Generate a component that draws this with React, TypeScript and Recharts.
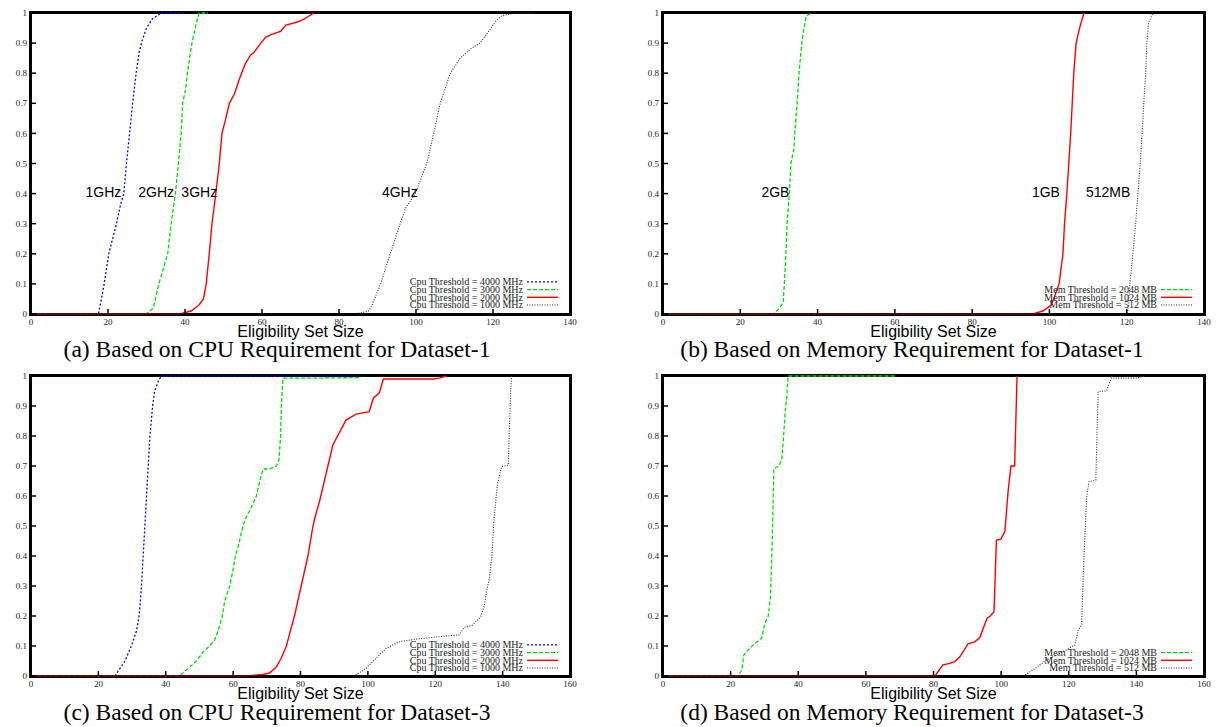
import { LineChart, Line, XAxis, YAxis, Legend, ReferenceDot } from 'recharts';

type Pt = [number, number];

const xTicks140 = [0, 20, 40, 60, 80, 100, 120, 140];
const xTicks160 = [0, 20, 40, 60, 80, 100, 120, 140, 160];
const yTicks = [0, 0.1, 0.2, 0.3, 0.4, 0.5, 0.6, 0.7, 0.8, 0.9, 1];

// (a) CPU, dataset 1
const a4000: Pt[] = [[0, 0], [17.5, 0], [18.3, 0.05], [19, 0.1], [20.2, 0.2], [21.2, 0.25], [22.2, 0.3], [23.2, 0.36], [24.1, 0.4], [24.8, 0.5], [25.6, 0.6], [26.4, 0.7], [27.3, 0.8], [28.1, 0.87], [28.9, 0.91], [30, 0.95], [31.5, 0.98], [33.8, 1], [40, 1]];
const a3000: Pt[] = [[0, 0], [29.9, 0], [31.8, 0.02], [33.2, 0.1], [35.5, 0.2], [36.4, 0.3], [37.5, 0.4], [38.3, 0.5], [39, 0.6], [39.4, 0.7], [40.2, 0.75], [40.6, 0.8], [41.8, 0.9], [43, 0.97], [43.7, 1], [46, 1]];
const a2000: Pt[] = [[0, 0], [38.6, 0], [41.6, 0.01], [43.6, 0.03], [44.8, 0.05], [45.5, 0.1], [46.3, 0.2], [47, 0.3], [48, 0.4], [48.9, 0.5], [49.6, 0.6], [50.6, 0.65], [51.5, 0.7], [52.8, 0.73], [54.1, 0.78], [55.6, 0.83], [57, 0.86], [58, 0.87], [59.7, 0.9], [61, 0.92], [62.7, 0.93], [64.9, 0.94], [66.2, 0.96], [69.2, 0.97], [70.9, 0.98], [72.2, 0.99], [73.5, 1]];
const a1000: Pt[] = [[0, 0], [84.3, 0], [87.7, 0.01], [88.6, 0.03], [90.8, 0.1], [93.3, 0.2], [95.9, 0.3], [97.2, 0.35], [99.8, 0.4], [102.8, 0.5], [104.6, 0.6], [106.3, 0.7], [108.9, 0.8], [111.5, 0.85], [114.1, 0.88], [116.6, 0.9], [118.4, 0.93], [120.5, 0.97], [122.2, 0.99], [125.7, 1], [131, 1]];

// (b) memory, dataset 1
const b2048: Pt[] = [[0, 0], [28.5, 0], [30.2, 0.02], [31.1, 0.04], [31.4, 0.1], [31.8, 0.2], [32.1, 0.3], [32.7, 0.4], [33.1, 0.5], [33.9, 0.55], [34.1, 0.6], [34.7, 0.7], [35.2, 0.8], [35.9, 0.9], [36.5, 0.95], [37.1, 0.99], [38.4, 1]];
const b1024: Pt[] = [[0, 0], [95.7, 0], [98.3, 0.01], [100.5, 0.03], [102.5, 0.1], [103.5, 0.2], [103.9, 0.3], [104.5, 0.4], [105, 0.5], [105.5, 0.6], [105.9, 0.7], [106.3, 0.8], [106.9, 0.9], [107.8, 0.95], [108.9, 1]];
const b512: Pt[] = [[0, 0], [120.2, 0], [120.8, 0.1], [121.6, 0.2], [122.3, 0.3], [122.9, 0.4], [123.5, 0.5], [124, 0.6], [124.4, 0.7], [124.9, 0.8], [125.2, 0.9], [125.7, 0.97], [126.8, 1]];

// (c) CPU, dataset 3
const c4000: Pt[] = [[0, 0], [24.9, 0], [27.9, 0.05], [29.8, 0.1], [31.3, 0.15], [32.1, 0.2], [32.8, 0.3], [33.3, 0.4], [33.8, 0.5], [34.3, 0.6], [34.8, 0.7], [35.3, 0.8], [36.1, 0.9], [36.7, 0.95], [38, 0.99], [39.2, 1], [98, 1]];
const c3000: Pt[] = [[0, 0], [44.1, 0], [46.1, 0.02], [49.1, 0.05], [51.1, 0.08], [53, 0.1], [54.5, 0.12], [55.5, 0.15], [56.8, 0.2], [57.5, 0.25], [59, 0.3], [59.9, 0.35], [60.7, 0.4], [61.9, 0.45], [62.9, 0.5], [63.9, 0.53], [64.9, 0.55], [66.9, 0.6], [67.9, 0.65], [68.9, 0.69], [70.8, 0.69], [72.8, 0.7], [73.6, 0.72], [74.1, 0.8], [74.3, 0.9], [74.8, 0.993], [85.6, 0.993], [98, 0.995]];
const c2000: Pt[] = [[0, 0], [63.9, 0], [68.8, 0.005], [70.8, 0.01], [72.8, 0.03], [74.3, 0.06], [75.8, 0.1], [78.2, 0.2], [80.2, 0.3], [82.2, 0.4], [83.7, 0.5], [84.6, 0.542], [85.6, 0.58], [89.6, 0.77], [93.5, 0.853], [96.5, 0.873], [100.4, 0.881], [101.6, 0.926], [103.4, 0.944], [104.6, 0.99], [119.2, 0.99], [121.2, 0.993], [123.2, 1]];
const c1000: Pt[] = [[0, 0], [96, 0], [99.5, 0.026], [102.4, 0.059], [105.4, 0.092], [109.3, 0.114], [114.3, 0.123], [121.2, 0.131], [127.1, 0.137], [128.6, 0.162], [131.1, 0.17], [133.5, 0.198], [134.5, 0.231], [135.5, 0.298], [136, 0.32], [136.8, 0.398], [137.5, 0.531], [138.5, 0.642], [139.7, 0.698], [141.7, 0.703], [141.9, 0.787], [142.4, 0.953], [142.7, 1]];

// (d) memory, dataset 3
const d2048: Pt[] = [[0, 0], [22.3, 0], [23.3, 0.02], [23.9, 0.07], [25.2, 0.087], [27.2, 0.109], [29.2, 0.126], [30.1, 0.176], [31.1, 0.198], [31.8, 0.264], [32.3, 0.453], [32.8, 0.692], [34.1, 0.698], [35.1, 0.72], [35.6, 0.787], [36.1, 0.876], [36.6, 0.931], [37, 1], [69, 1]];
const d1024: Pt[] = [[0, 0], [80.4, 0], [82.8, 0.037], [84.8, 0.042], [86.3, 0.048], [87.8, 0.064], [90.2, 0.107], [92.2, 0.114], [93.7, 0.128], [95.8, 0.192], [96.8, 0.2], [97.9, 0.214], [98.6, 0.453], [99.9, 0.456], [101.1, 0.481], [102.1, 0.62], [102.9, 0.7], [104, 0.7], [104.7, 1]];
const d512: Pt[] = [[0, 0], [106.5, 0], [109.4, 0.02], [113.4, 0.053], [118.3, 0.081], [121.8, 0.103], [122.8, 0.153], [123.8, 0.17], [124.3, 0.342], [125.3, 0.598], [126, 0.648], [128, 0.653], [128.7, 0.948], [131.1, 0.95], [132.6, 0.993], [140, 0.993], [142.4, 1]];

const cpuNames = ['Cpu Threshold = 4000 MHz', 'Cpu Threshold = 3000 MHz', 'Cpu Threshold = 2000 MHz', 'Cpu Threshold = 1000 MHz'];
const memNames = ['Mem Threshold = 2048 MB', 'Mem Threshold = 1024 MB', 'Mem Threshold = 512 MB'];

const cpuLabels = ['1GHz', '2GHz', '3GHz', '4GHz'];
const cpuLabelX = [18.8, 32.5, 43.7, 95.8];
const memLabels = ['2GB', '1GB', '512MB'];
const memLabelX = [29.1, 99.1, 115.2];

const BLUE = { color: '#0000ff', dash: '2 2', width: 1.3 };
const GREEN = { color: '#00e000', dash: '4 2', width: 1.3 };
const RED = { color: '#ff0000', dash: undefined, width: 1.4 };
const BLACK = { color: '#333333', dash: '1 1.5', width: 1.1 };

interface Series { name: string; points: Pt[]; color: string; dash?: string; width: number }
interface Note { text: string; x: number; y: number }

const serif = "'Liberation Serif', 'Times New Roman', serif";
const sans = "'Liberation Sans', Arial, sans-serif";
const TICK = 5;

const toRows = (pts: Pt[]) => pts.map(([x, y]) => ({ x, y }));

// inward gnuplot-style tick marks, drawn together with the labels
const BottomTick = (p: any) => (
  <g>
    <line x1={p.x} x2={p.x} y1={p.y - 5} y2={p.y - 5 - TICK} stroke="#000" strokeWidth={1.5} />
    <text x={p.x} y={p.y} dy="0.71em" textAnchor="middle" fontSize={9} fontFamily={serif} fill="#222">{p.payload.value}</text>
  </g>
);
const LeftTick = (p: any) => (
  <g>
    <line x1={p.x + 4} x2={p.x + 4 + TICK} y1={p.y} y2={p.y} stroke="#000" strokeWidth={1.5} />
    <text x={p.x} y={p.y} dy="0.355em" textAnchor="end" fontSize={9} fontFamily={serif} fill="#222">{String(p.payload.value)}</text>
  </g>
);
const TopTick = (p: any) => <line x1={p.x} x2={p.x} y1={p.y} y2={p.y + TICK} stroke="#000" strokeWidth={1.5} />;
const RightTick = (p: any) => <line x1={p.x} x2={p.x - TICK} y1={p.y} y2={p.y} stroke="#000" strokeWidth={1.5} />;

function KeyBox({ series, boxW }: { series: Series[]; boxW: number }) {
  const rowH = 7.7;
  const textRight = boxW - 47;
  const n = series.length;
  return (
    <svg width={boxW} height={34} style={{ overflow: 'visible' }}>
      {series.map((s, i) => {
        const y = 29 - (n - 1 - i) * rowH;
        return (
          <g key={s.name}>
            <text x={textRight} y={y + 3.3} textAnchor="end" fontSize={10} fontFamily={serif} fill="#222">{s.name}</text>
            <line x1={textRight + 4} x2={textRight + 35} y1={y} y2={y} stroke={s.color} strokeWidth={s.width} strokeDasharray={s.dash} />
          </g>
        );
      })}
    </svg>
  );
}

interface PanelProps {
  left: number; top: number; width: number; height: number; marginRight: number;
  xMax: number; xTicks: number[]; series: Series[]; notes: Note[];
}

const M_TOP = 13;
const Y_W = 31;
const X_H = 26;

function Panel({ left, top, width, height, marginRight, xMax, xTicks, series, notes }: PanelProps) {
  const boxW = 190;
  const plotRight = width - marginRight;
  const plotBottom = height - X_H;
  return (
    <div style={{ position: 'absolute', left, top, width, height }}>
      {/* plot border, behind the chart */}
      <div style={{
        position: 'absolute', left: Y_W - 2, top: M_TOP - 2, width: plotRight - Y_W + 4, height: plotBottom - M_TOP + 4,
        border: '3px solid #000', boxSizing: 'border-box', background: '#fff',
      }} />
      <div style={{ position: 'absolute', left: 0, top: 0 }}>
        <LineChart width={width} height={height} margin={{ top: M_TOP, right: marginRight, bottom: 0, left: 0 }}>
          <XAxis xAxisId="b" type="number" dataKey="x" domain={[0, xMax]} ticks={xTicks} allowDataOverflow
            height={X_H} tickSize={0} tickMargin={5} tickLine={false} stroke="#000" tick={BottomTick}
            label={{ value: 'Eligibility Set Size', position: 'insideBottom', offset: 3, fontSize: 16, fontFamily: sans, fill: '#000' }} />
          <XAxis xAxisId="t" orientation="top" type="number" dataKey="x" domain={[0, xMax]} ticks={xTicks} allowDataOverflow
            height={0} tickSize={0} tickMargin={0} tickLine={false} tick={TopTick} stroke="#000" />
          <YAxis yAxisId="l" type="number" domain={[0, 1]} ticks={yTicks} width={Y_W}
            tickSize={0} tickMargin={4} tickLine={false} stroke="#000" tick={LeftTick} />
          <YAxis yAxisId="r" orientation="right" type="number" domain={[0, 1]} ticks={yTicks} width={0}
            tickSize={0} tickMargin={0} tickLine={false} tick={RightTick} stroke="#000" />
          {series.map((s) => (
            <Line key={s.name} xAxisId="b" yAxisId="l" name={s.name} data={toRows(s.points)} dataKey="y" type="linear"
              stroke={s.color} strokeWidth={s.width} strokeDasharray={s.dash} dot={false} activeDot={false}
              isAnimationActive={false} />
          ))}
          {notes.map((n) => (
            <ReferenceDot key={n.text} xAxisId="b" yAxisId="l" x={n.x} y={n.y} r={0} stroke="none" fill="none"
              label={{ value: n.text, position: 'center', fontSize: 14, fontFamily: sans, fill: '#000' }} />
          ))}
          <Legend layout="vertical" align="center" verticalAlign="middle"
            wrapperStyle={{ left: plotRight - boxW, top: 276, width: boxW, height: 34 }}
            content={() => <KeyBox series={series} boxW={boxW} />} />
        </LineChart>
      </div>
    </div>
  );
}

function Caption({ text, cx, top }: { text: string; cx: number; top: number }) {
  return (
    <div style={{ position: 'absolute', left: cx - 300, top, width: 600, textAlign: 'center', fontFamily: serif, fontSize: 23.5, lineHeight: '24px', color: '#000' }}>
      {text}
    </div>
  );
}

const mk = (names: string[], pts: Pt[][], styles: typeof RED[]): Series[] =>
  names.map((name, i) => ({ name, points: pts[i], ...styles[i] }));

export default function App() {
  const cpuA = mk(cpuNames, [a4000, a3000, a2000, a1000], [BLUE, GREEN, RED, BLACK]);
  const memB = mk(memNames, [b2048, b1024, b512], [GREEN, RED, BLACK]);
  const cpuC = mk(cpuNames, [c4000, c3000, c2000, c1000], [BLUE, GREEN, RED, BLACK]);
  const memD = mk(memNames, [d2048, d1024, d512], [GREEN, RED, BLACK]);
  const notesA = cpuLabels.map((t, i) => ({ text: t, x: cpuLabelX[i], y: 0.405 }));
  const notesB = memLabels.map((t, i) => ({ text: t, x: memLabelX[i], y: 0.405 }));
  return (
    <div style={{ position: 'absolute', left: 0, top: 0, width: 1221, height: 727, background: '#fff', overflow: 'hidden' }}>
      <Panel left={0} top={0} width={600} height={340} marginRight={30} xMax={140} xTicks={xTicks140} series={cpuA} notes={notesA} />
      <Panel left={632} top={0} width={589} height={340} marginRight={17} xMax={140} xTicks={xTicks140} series={memB} notes={notesB} />
      <Panel left={0} top={363} width={600} height={339} marginRight={30} xMax={160} xTicks={xTicks160} series={cpuC} notes={[]} />
      <Panel left={632} top={363} width={589} height={339} marginRight={17} xMax={160} xTicks={xTicks160} series={memD} notes={[]} />
      <Caption text="(a) Based on CPU Requirement for Dataset-1" cx={277} top={337} />
      <Caption text="(b) Based on Memory Requirement for Dataset-1" cx={912} top={337} />
      <Caption text="(c) Based on CPU Requirement for Dataset-3" cx={277} top={700} />
      <Caption text="(d) Based on Memory Requirement for Dataset-3" cx={912} top={700} />
    </div>
  );
}
